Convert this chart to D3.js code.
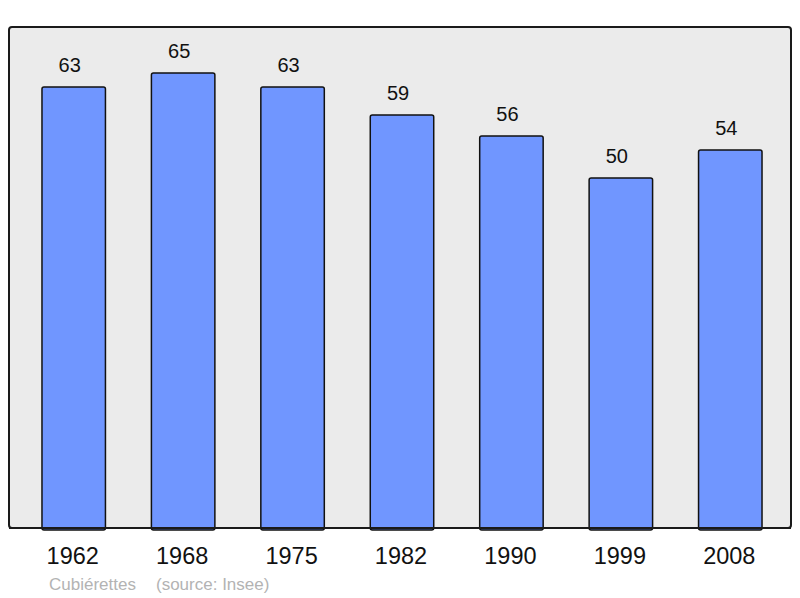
<!DOCTYPE html>
<html>
<head>
<meta charset="utf-8">
<script src="https://cdn.jsdelivr.net/npm/d3@7"></script>
<style>
  body { margin: 0; background: #fff; }
  text { font-family: "Liberation Sans", Arial, sans-serif; }
</style>
</head>
<body>
<div id="chart"></div>
<script>
var width = 800;
var height = 598;

var years = ["1962", "1968", "1975", "1982", "1990", "1999", "2008"];
var population = [63, 65, 63, 59, 56, 50, 54];
var commune = "Cubiérettes";
var source = "(source: Insee)";

var panel = { "left": 9, "top": 27, "right": 791, "bottom": 528 };

var svg = d3.select("#chart")
            .append("svg")
            .attr("width", width)
            .attr("height", height);

// background panel
svg.append("rect")
   .attr("x", panel.left)
   .attr("y", panel.top)
   .attr("width", panel.right - panel.left)
   .attr("height", panel.bottom - panel.top)
   .attr("rx", 3)
   .attr("fill", "#ebebeb")
   .attr("stroke", "#1a1a1a")
   .attr("stroke-width", 2);

var scaleX = d3.scaleBand()
               .domain(years)
               .range([19, 785])
               .paddingInner(0.42)
               .paddingOuter(0.21);

var scaleY = d3.scaleLinear()
               .domain([0, 500 / 7])
               .range([panel.bottom, panel.top + 1]);

var rows = years.map(function(y, i) { return { year: y, value: population[i] }; });

svg.selectAll("rect.bar")
   .data(rows)
   .enter()
   .append("rect")
   .attr("class", "bar")
   .attr("x", function(d) { return scaleX(d.year); })
   .attr("y", function(d) { return scaleY(d.value); })
   .attr("width", scaleX.bandwidth())
   .attr("height", function(d) { return panel.bottom - scaleY(d.value) + 2; })
   .attr("rx", 2)
   .attr("fill", "#7096ff")
   .attr("stroke", "#111")
   .attr("stroke-width", 1.5);

// redraw bottom border over bar ends
svg.append("line")
   .attr("x1", panel.left)
   .attr("x2", panel.right)
   .attr("y1", panel.bottom)
   .attr("y2", panel.bottom)
   .attr("stroke", "#1a1a1a")
   .attr("stroke-width", 2);

svg.selectAll("text.value")
   .data(rows)
   .enter()
   .append("text")
   .attr("class", "value")
   .attr("x", function(d) { return scaleX(d.year) + scaleX.bandwidth() / 2 - 4; })
   .attr("y", function(d) { return scaleY(d.value) - 15; })
   .attr("text-anchor", "middle")
   .attr("font-size", 20)
   .attr("fill", "#111")
   .text(function(d) { return d.value; });

var xAxis = d3.axisBottom(scaleX).tickSize(0).tickPadding(0);

svg.append("g")
   .attr("transform", "translate(-1," + (panel.bottom + 36) + ")")
   .call(xAxis)
   .call(function(g) { g.select(".domain").remove(); })
   .selectAll("text")
   .attr("dy", 0)
   .attr("font-size", 23.5)
   .attr("font-family", "Liberation Sans, Arial, sans-serif")
   .attr("fill", "#111");

svg.append("text")
   .attr("x", 49)
   .attr("y", 590)
   .attr("font-size", 17)
   .attr("fill", "#b3b3b3")
   .text(commune);

svg.append("text")
   .attr("x", 156)
   .attr("y", 590)
   .attr("font-size", 17)
   .attr("fill", "#b3b3b3")
   .text(source);
</script>
</body>
</html>
